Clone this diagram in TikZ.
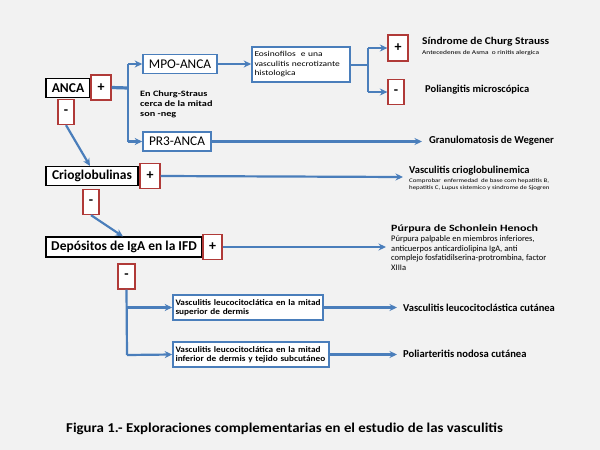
\documentclass[tikz,border=0pt]{standalone}
\usepackage{fontspec}
\setmainfont{Carlito}
\newfontfamily\wa[FakeStretch=1.1]{Carlito}
\newfontfamily\wb[FakeStretch=1.25]{Carlito}
\usetikzlibrary{arrows.meta}
\definecolor{bg}{HTML}{F2F2F2}
\definecolor{bl}{HTML}{4A7EBB}
\definecolor{rd}{HTML}{B03A38}
\tikzset{
  blk/.style={draw=black, line width=1.5pt, fill=white, inner sep=0pt, font=\bfseries\fontsize{13.5}{15}\selectfont},
  rbox/.style={draw=rd, line width=1.3pt, fill=white, inner sep=0pt, font=\bfseries\fontsize{14}{14}\selectfont},
  bbox/.style={draw=bl, line width=1.6pt, fill=white, inner sep=0pt},
  con/.style={draw=bl, line width=2.2pt},
  arr/.style={con, -{Stealth[length=7.5pt,width=7pt]}},
  res/.style={anchor=west, inner sep=0pt, align=left, font=\bfseries\fontsize{10.5}{12}\selectfont},
  sm/.style={anchor=west, inner sep=0pt, align=left}
}
\begin{document}
\begin{tikzpicture}[x=1pt,y=-1pt]
\fill[bg] (0,0) rectangle (600,450);
\useasboundingbox (0,0) rectangle (600,450);

% main nodes
\node[blk, minimum width=44pt, minimum height=19pt] (anca) at (68,88) {ANCA};
\node[rbox, minimum width=20pt, minimum height=25pt] (ancaP) at (101,87.5) {+};
\node[rbox, minimum width=16pt, minimum height=25pt] (ancaM) at (66,112) {-};

\node[bbox, minimum width=74pt, minimum height=19pt, font=\fontsize{13.3}{15}\selectfont] (mpo) at (180,64) {MPO-ANCA};
\node[bbox, minimum width=68pt, minimum height=19pt, font=\fontsize{13.3}{15}\selectfont] (pr3) at (177,141.5) {PR3-ANCA};
\node[sm, font=\wb\bfseries\fontsize{8.2}{10}\selectfont] (cs) at (140,104.5) {En Churg-Straus\\cerca de la mitad\\son -neg};

\node[bbox, minimum width=98pt, minimum height=35pt, text width=93pt, align=left, inner xsep=2.5pt, font=\wb\fontsize{7.6}{9.5}\selectfont] (eos) at (301,64.5) {Eosinofilos\ \ e una\\vasculitis necrotizante\\histologica};
\node[rbox, minimum width=20pt, minimum height=26pt] (eosP) at (398,48) {+};
\node[rbox, minimum width=16pt, minimum height=25pt] (eosM) at (396,92) {-};

\node[res, font=\wa\bfseries\fontsize{10.4}{12}\selectfont] (churg) at (422,41.5) {Síndrome de Churg Strauss};
\node[sm, font=\wb\fontsize{5.9}{7}\selectfont] (churgs) at (422,52.5) {Antecedenes de Asma\ \ o rinitis alergica};
\node[res] (polian) at (425,90) {Poliangitis microscópica};
\node[res, font=\bfseries\fontsize{10.6}{12}\selectfont] (weg) at (429,140.5) {Granulomatosis de Wegener};

\node[blk, minimum width=92pt, minimum height=19pt] (crio) at (92,176) {Crioglobulinas};
\node[rbox, minimum width=20pt, minimum height=25pt] (crioP) at (150,176) {+};
\node[rbox, minimum width=16pt, minimum height=25pt] (crioM) at (91,202) {-};
\node[res] (vc) at (409,171) {Vasculitis crioglobulinemica};
\node[sm, font=\wb\fontsize{5.5}{6.2}\selectfont] (vcs) at (409,184.5) {Comprobar\ \ enfermedad\ \ de base com hepatitis B,\\hepatitis C, Lupus sistemico y sindrome de Sjogren};

\node[blk, minimum width=156pt, minimum height=20pt] (dep) at (124,247) {Depósitos de IgA en la IFD};
\node[rbox, minimum width=19pt, minimum height=25pt] (depP) at (212.5,247) {+};
\node[rbox, minimum width=17pt, minimum height=25pt] (depM) at (126.5,276.5) {-};
\node[res, font=\wb\bfseries\fontsize{9.6}{12}\selectfont] (psh) at (391,229) {Púrpura de Schonlein Henoch};
\node[sm, font=\fontsize{8.5}{9.5}\selectfont] (pshs) at (391,253) {Púrpura palpable en miembros inferiores,\\anticuerpos anticardiolipina IgA, anti\\complejo fosfatidilserina-protrombina, factor\\XIIIa};

\node[bbox, minimum width=150pt, minimum height=25pt, text width=145pt, align=left, inner xsep=2.5pt, font=\wa\bfseries\fontsize{8.4}{9}\selectfont] (vl1) at (248,307.5) {\mbox{Vasculitis leucocitoclática en la mitad}\\\mbox{superior de dermis}};
\node[bbox, minimum width=156pt, minimum height=25pt, text width=151pt, align=left, inner xsep=2.5pt, font=\wa\bfseries\fontsize{8.4}{9}\selectfont] (vl2) at (251,354.5) {\mbox{Vasculitis leucocitoclática en la mitad}\\\mbox{inferior de dermis y tejido subcutáneo}};
\node[res, font=\bfseries\fontsize{10.5}{12}\selectfont] (vlc) at (403,308) {Vasculitis leucocitoclástica cutánea};
\node[res, font=\bfseries\fontsize{10.6}{12}\selectfont] (pan) at (403,354) {Poliarteritis nodosa cutánea};

\node[anchor=west, inner sep=0pt, font=\wa\bfseries\fontsize{13.5}{15}\selectfont] (cap) at (66,429) {Figura 1.- Exploraciones complementarias en el estudio de las vasculitis};

% coordinates
\coordinate (b1) at (128,88);
\coordinate (b1t) at (128,64);
\coordinate (b1b) at (128,141.5);
\coordinate (b2) at (368,65);
\coordinate (b2t) at (368,48);
\coordinate (b2b) at (368,92);
\coordinate (b3) at (127,355);
\coordinate (b3a) at (127,307.5);
\coordinate (e1) at (422,141.5);
\coordinate (e2) at (403,177);
\coordinate (e3) at (386,247);
\coordinate (e4) at (397,307.5);
\coordinate (e5) at (397,354.5);
\coordinate (c1) at (90,166);
\coordinate (c2) at (123,236.5);

% connectors
\draw[con, line width=3.2pt] (ancaP.east) -- (b1);
\draw[con] (b1t) -- (b1b);
\draw[arr] (b1t) -- (mpo.west);
\draw[arr] (b1b) -- (pr3.west);
\draw[arr] (mpo.east) -- (mpo.east -| eos.west);
\draw[con] (eos.east |- b2) -- (b2);
\draw[con] (b2t) -- (b2b);
\draw[arr] (b2t) -- (eosP.west);
\draw[arr] (b2b) -- (eosM.west);
\draw[arr] (pr3.east) -- (e1);
\draw[arr] (ancaM.south) -- (c1);
\draw[arr] (crioP.east) -- (e2);
\draw[arr] (crioM.south) -- (c2);
\draw[arr] (depP.east) -- (e3);
\draw[con] (depM.south) -- (b3);
\draw[arr] (b3a) -- (vl1.west);
\draw[arr] (b3) -- (vl2.west);
\draw[arr] (vl1.east) -- (e4);
\draw[arr] (vl2.east) -- (e5);
\end{tikzpicture}
\end{document}
